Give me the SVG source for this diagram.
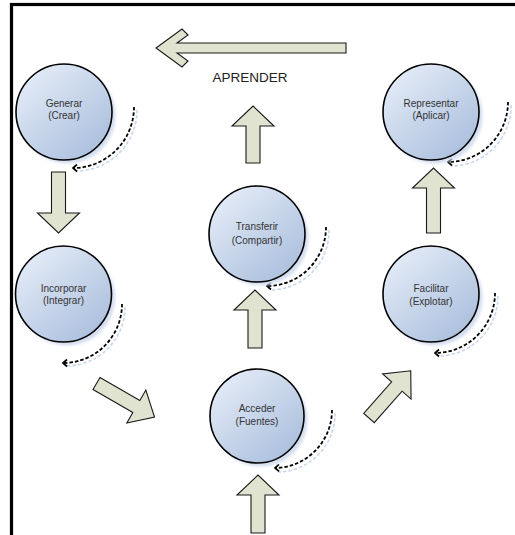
<svg xmlns="http://www.w3.org/2000/svg" width="515" height="535" viewBox="0 0 515 535">
  <defs>
    <linearGradient id="ballFill" x1="0.15" y1="0.1" x2="0.85" y2="0.9">
      <stop offset="0" stop-color="#e2eaf6"/>
      <stop offset="1" stop-color="#acc0de"/>
    </linearGradient>
    <filter id="soft" x="-20%" y="-20%" width="140%" height="140%">
      <feGaussianBlur stdDeviation="1.8"/>
    </filter>
    <marker id="chev" viewBox="-6 -5 8 10" markerWidth="8" markerHeight="10" refX="0" refY="0" orient="auto" markerUnits="userSpaceOnUse">
      <path d="M-4,-3.5 L0,0 L-4,3.5" fill="none" stroke="#000" stroke-width="1.7"/>
    </marker>
  </defs>
  <style>
    .shadow { fill: #d3def0; filter: url(#soft); }
    .ball { fill: url(#ballFill); stroke: #000; stroke-width: 1.6; }
    .lbl { font-family: "Liberation Sans", Arial, sans-serif; font-size: 10px; fill: #333; text-anchor: middle; }
    .title { font-family: "Liberation Sans", Arial, sans-serif; font-size: 13.5px; fill: #222; text-anchor: middle; }
    .block { fill: #dfe3cf; stroke: #1a1a1a; stroke-width: 1.1; stroke-linejoin: miter; }
    .loop { fill: none; stroke: #000; stroke-width: 1.8; stroke-dasharray: 3.5 2; marker-end: url(#chev); }
    .loopShade { fill: none; stroke: #c8d6ec; stroke-width: 1.6; stroke-dasharray: 3.5 2; }
  </style>

  <rect width="515" height="535" fill="#fff"/>
  <!-- frame -->
  <rect x="11.5" y="4.5" width="520" height="540" fill="none" stroke="#000" stroke-width="3.2"/>

  <!-- connectors -->
  <g id="connectors">
    <!-- big left arrow -->
    <polygon class="block" points="156,48 182,29 188,35 177,43 346,43 346,53 177,53 188,61 182,67"/>
    <!-- Generar -> Incorporar -->
    <polygon class="block" points="51.5,172 65.5,172 65.5,213 79.5,213 58.5,233 37.5,213 51.5,213"/>
    <!-- Incorporar -> Acceder -->
    <polygon class="block" transform="translate(96.5,383.5) rotate(30)" points="0,-7 46,-7 46,-19 67,0 46,19 46,7 0,7"/>
    <!-- Acceder -> Facilitar -->
    <polygon class="block" transform="translate(369,418) rotate(-48.5)" points="0,-7 42,-7 42,-19 63,0 42,19 42,7 0,7"/>
    <!-- Facilitar -> Representar -->
    <polygon class="block" points="426.5,233 440.5,233 440.5,188 454.5,188 433.5,168 412.5,188 426.5,188"/>
    <!-- bottom -> Acceder -->
    <polygon class="block" points="251,533 265,533 265,495 279,495 258,475 237,495 251,495"/>
    <!-- Acceder -> Transferir -->
    <polygon class="block" points="248,348 262,348 262,310 276,310 255,290 234,310 248,310"/>
    <!-- Transferir -> APRENDER -->
    <polygon class="block" points="246,163 260,163 260,126 274,126 253,106 232,126 246,126"/>

    <!-- circular dashed loops -->
    <path class="loopShade" d="M137,110 A61,61 0 0 1 76,171"/>
    <path class="loop" d="M134,107 A61,61 0 0 1 73,168"/>
    <path class="loopShade" d="M511,105 A60,60 0 0 1 451,166"/>
    <path class="loop" d="M508,102 A60,60 0 0 1 448,162"/>
    <path class="loopShade" d="M329,230 A59,59 0 0 1 270,290"/>
    <path class="loop" d="M326,227 A59,59 0 0 1 267,286"/>
    <path class="loopShade" d="M125,307 A59,59 0 0 1 66,366"/>
    <path class="loop" d="M122,304 A59,59 0 0 1 63,363"/>
    <path class="loopShade" d="M498,296 A60,60 0 0 1 438,356"/>
    <path class="loop" d="M495,293 A60,60 0 0 1 435,353"/>
    <path class="loopShade" d="M335,413 A58,58 0 0 1 278,472"/>
    <path class="loop" d="M332,410 A58,58 0 0 1 275,468"/>
  </g>

  <text class="title" x="250" y="82">APRENDER</text>

  <g id="generar">
    <circle class="shadow" cx="67.5" cy="115.5" r="48"/>
    <circle class="ball" cx="64" cy="112" r="48"/>
    <text class="lbl" x="64" y="107">Generar</text>
    <text class="lbl" x="64" y="119">(Crear)</text>
  </g>
  <g id="representar">
    <circle class="shadow" cx="434.5" cy="115.5" r="48"/>
    <circle class="ball" cx="431" cy="112" r="48"/>
    <text class="lbl" x="431" y="107">Representar</text>
    <text class="lbl" x="431" y="119">(Aplicar)</text>
  </g>
  <g id="transferir">
    <circle class="shadow" cx="260.5" cy="237.5" r="48"/>
    <circle class="ball" cx="257" cy="234" r="48"/>
    <text class="lbl" x="257" y="230">Transferir</text>
    <text class="lbl" x="257" y="244">(Compartir)</text>
  </g>
  <g id="incorporar">
    <circle class="shadow" cx="67" cy="297.5" r="48"/>
    <circle class="ball" cx="63.5" cy="294" r="48"/>
    <text class="lbl" x="63.5" y="292">Incorporar</text>
    <text class="lbl" x="63.5" y="304">(Integrar)</text>
  </g>
  <g id="facilitar">
    <circle class="shadow" cx="434.5" cy="297.5" r="48"/>
    <circle class="ball" cx="431" cy="294" r="48"/>
    <text class="lbl" x="431" y="292">Facilitar</text>
    <text class="lbl" x="431" y="305">(Explotar)</text>
  </g>
  <g id="acceder">
    <circle class="shadow" cx="260.5" cy="419.5" r="47"/>
    <circle class="ball" cx="257" cy="416" r="47"/>
    <text class="lbl" x="257" y="412">Acceder</text>
    <text class="lbl" x="257" y="425">(Fuentes)</text>
  </g>
</svg>
